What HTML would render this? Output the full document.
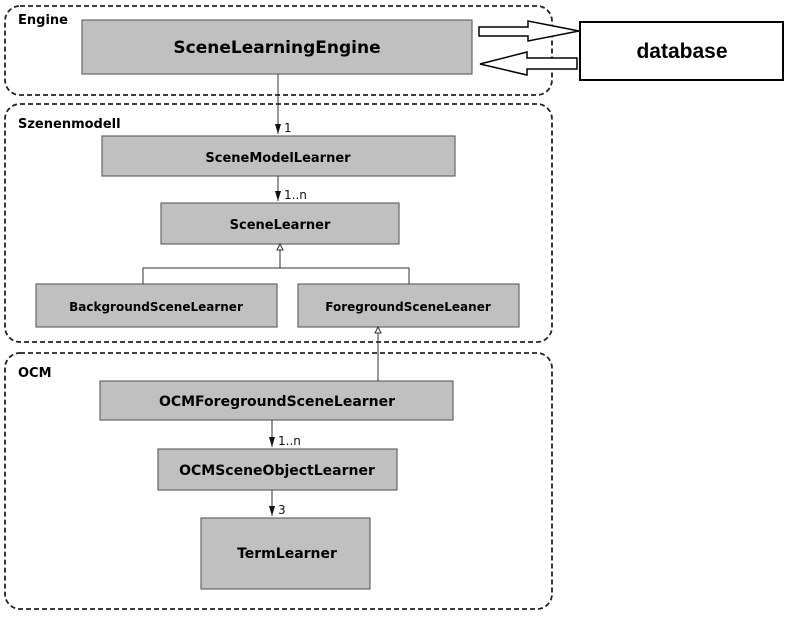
<!DOCTYPE html>
<html><head><meta charset="utf-8"><style>
body{margin:0;background:#fff;width:800px;height:615px;overflow:hidden}
svg text{font-family:"DejaVu Sans","Liberation Sans",sans-serif;font-weight:bold}
</style></head><body>
<svg width="800" height="615" viewBox="0 0 800 615" xmlns="http://www.w3.org/2000/svg">
<g fill="none" stroke="#222" stroke-width="1.8" stroke-dasharray="5,3">
<rect x="5" y="6" width="547" height="89" rx="15"/>
<rect x="5" y="104" width="547" height="238" rx="15"/>
<rect x="5" y="353" width="547" height="256" rx="15"/>
</g>
<g font-size="13" fill="#000">
<text x="18" y="24">Engine</text>
<text x="18" y="128">Szenenmodell</text>
<text x="18" y="377">OCM</text>
</g>
<g fill="#c0c0c0" stroke="#666" stroke-width="1.2">
<rect x="82" y="20" width="390" height="54"/>
<rect x="102" y="136" width="353" height="40"/>
<rect x="161" y="203" width="238" height="41"/>
<rect x="36" y="284" width="241" height="43"/>
<rect x="298" y="284" width="221" height="43"/>
<rect x="100" y="381" width="353" height="39"/>
<rect x="158" y="449" width="239" height="41"/>
<rect x="201" y="518" width="169" height="71"/>
</g>
<g fill="#000" text-anchor="middle">
<text x="277" y="53" font-size="17">SceneLearningEngine</text>
<text x="278" y="162" font-size="13">SceneModelLearner</text>
<text x="280" y="229" font-size="13">SceneLearner</text>
<text x="156" y="311" font-size="12">BackgroundSceneLearner</text>
<text x="408" y="311" font-size="12">ForegroundSceneLeaner</text>
<text x="277" y="406" font-size="14">OCMForegroundSceneLearner</text>
<text x="277" y="475" font-size="14">OCMSceneObjectLearner</text>
<text x="287" y="558" font-size="14">TermLearner</text>
</g>
<g stroke="#333" stroke-width="1" fill="none">
<line x1="278" y1="74" x2="278" y2="134"/>
<line x1="278" y1="176" x2="278" y2="201"/>
<line x1="272" y1="420" x2="272" y2="447"/>
<line x1="272" y1="490" x2="272" y2="516"/>
<line x1="280" y1="250" x2="280" y2="268"/>
<polyline points="143,284 143,268 409,268 409,284"/>
<line x1="378" y1="333" x2="378" y2="381"/>
</g>
<g fill="#111">
<polygon points="275,124 281,124 278,134"/>
<polygon points="275,191 281,191 278,201"/>
<polygon points="269,437 275,437 272,447"/>
<polygon points="269,506 275,506 272,516"/>
</g>
<g fill="#fff" stroke="#333" stroke-width="1">
<polygon points="280,244 277,250 283,250"/>
<polygon points="378,327 375,333 381,333"/>
</g>
<g font-size="12" fill="#111">
<text x="284" y="132" style="font-weight:normal">1</text>
<text x="284" y="199" style="font-weight:normal">1..n</text>
<text x="278" y="445" style="font-weight:normal">1..n</text>
<text x="278" y="514" style="font-weight:normal">3</text>
</g>
<g fill="#fff" stroke="#000" stroke-width="1.5">
<polygon points="479,27 528,27 528,21 579,31 528,41 528,36 479,36"/>
<polygon points="577,58 527,58 527,52 480,64 527,75 527,69 577,69"/>
<rect x="580" y="22" width="203" height="58" stroke-width="2"/>
</g>
<text x="682" y="58" font-size="21" text-anchor="middle" fill="#000" style="font-family:'Liberation Sans',sans-serif">database</text>
</svg>
</body></html>
